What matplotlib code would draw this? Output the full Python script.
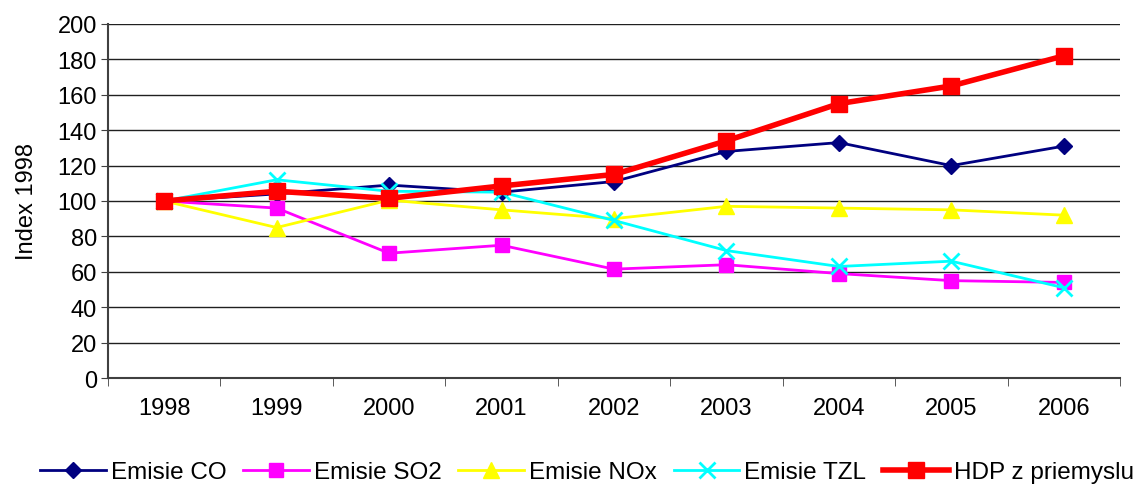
import matplotlib.pyplot as plt
import numpy as np

plt.rcParams['font.family'] = ['Liberation Sans', 'DejaVu Sans']

roky = ['1998', '1999', '2000', '2001', '2002', '2003', '2004', '2005', '2006']
emisie_co = [100, 104, 109, 105, 111, 128, 133, 120, 131]
emisie_so2 = [100, 96, 70.5, 75, 61.5, 64, 59, 55, 54]
emisie_nox = [100, 85, 100.5, 95, 90, 97, 96, 95, 92]
emisie_tzl = [100, 112, 105.5, 105, 89, 72, 63, 66, 51]
hdp = [100, 105.5, 101.5, 108.5, 115, 134, 155, 165, 182]

x = np.arange(len(roky))

fig = plt.figure(figsize=[11.33, 4.89], dpi=100)
ax = fig.add_axes([108/1133, 1 - 379/489, (1120 - 108)/1133, (379 - 25)/489])

ax.plot(x, emisie_co, color='#000080', marker='D', markersize=8, lw=2, label='Emisie CO')
ax.plot(x, emisie_so2, color='#FF00FF', marker='s', markersize=10, lw=2, label='Emisie SO2')
ax.plot(x, emisie_nox, color='#FFFF00', marker='^', markersize=11, lw=2, label='Emisie NOx')
ax.plot(x, emisie_tzl, color='#00FFFF', marker='x', markersize=11, mew=2, lw=2, label='Emisie TZL')
ax.plot(x, hdp, color='#FF0000', marker='s', markersize=11, lw=4, label='HDP z priemyslu')

ax.set_xlim(-0.5, len(roky) - 0.5)
ax.set_ylim(0, 200)
ax.set_yticks(np.arange(0, 201, 20))
ax.set_xticks(x)
ax.set_xticklabels(roky)
ax.set_xticks(np.arange(-0.5, len(roky)), minor=True)
ax.tick_params(axis='x', which='major', length=0, pad=14, labelsize=17)
ax.tick_params(axis='x', which='minor', length=6, direction='out', color='#404040')
ax.tick_params(axis='y', length=5, direction='out', labelsize=17, color='#404040', pad=3)
ax.yaxis.grid(True, color='#202020', lw=1)
ax.set_axisbelow(True)
for s in ['top', 'right']:
    ax.spines[s].set_visible(False)
ax.spines['left'].set_color('#404040')
ax.spines['bottom'].set_color('#404040')
ax.spines['left'].set_linewidth(1.5)
ax.spines['bottom'].set_linewidth(1.5)
ax.set_ylabel('Index 1998', fontsize=17, labelpad=14)

fig.legend(loc='lower center', bbox_to_anchor=(0.518, -0.035), ncol=5, frameon=False,
           fontsize=17.5, handlelength=2.7, columnspacing=0.7, handletextpad=0.2)

fig.savefig('out.png', dpi=100)
